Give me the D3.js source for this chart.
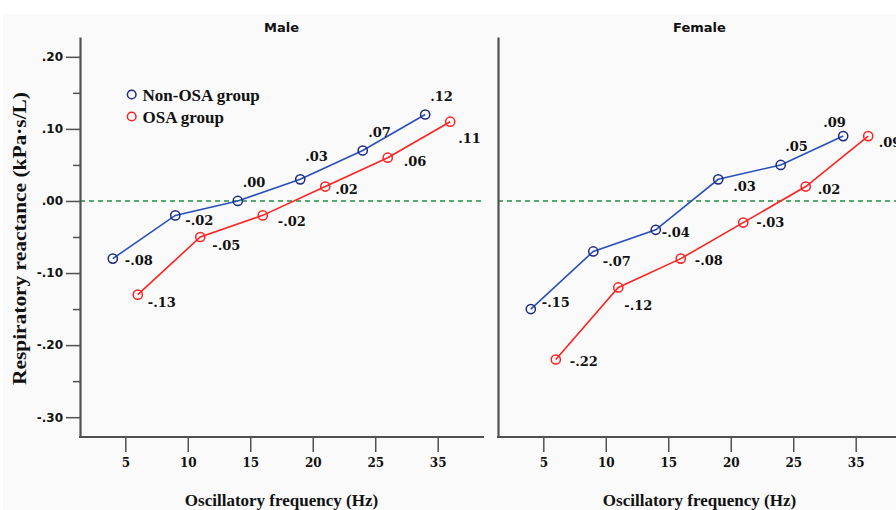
<!DOCTYPE html>
<html>
<head>
<meta charset="utf-8">
<script src="https://cdn.jsdelivr.net/npm/d3@7/dist/d3.min.js"></script>
<style>
  html, body { margin: 0; padding: 0; background: #ffffff; }
  svg { display: block; }
</style>
</head>
<body>
<svg id="chart" width="896" height="510"></svg>
<script>
// Oscillatory frequency categories (Hz) shown on both panels
const frequencies = ["5", "10", "15", "20", "25", "35"];
const panels = ["Male", "Female"];
const groups = ["Non-OSA group", "OSA group"];

// Mean respiratory reactance (kPa·s/L) per frequency
const maleNonOSA   = [-0.08, -0.02, 0.00, 0.03, 0.07, 0.12];
const maleOSA      = [-0.13, -0.05, -0.02, 0.02, 0.06, 0.11];
const femaleNonOSA = [-0.15, -0.07, -0.04, 0.03, 0.05, 0.09];
const femaleOSA    = [-0.22, -0.12, -0.08, -0.03, 0.02, 0.09];

// Y axis ticks
const yMajorTicks = [0.20, 0.10, 0.00, -0.10, -0.20, -0.30];
const yMinorTicks = [0.15, 0.05, -0.05, -0.15, -0.25];

// Value label offsets [dx, dy] from each marker
const labelOffsets = {
  Male: [
    [[12, 6.5], [10, 10], [5, -13.6], [5, -18], [5.5, -14], [5, -13]],
    [[10, 12], [12, 13.4], [15, 11], [10, 7.4], [16, 8.6], [8, 21]]
  ],
  Female: [
    [[11, -1.7], [9.5, 14.3], [6, 7.6], [15, 12], [4.5, -13.6], [-20, -8.7]],
    [[14, 6], [6, 23], [14, 6.7], [13, 4], [12, 7.4], [10.5, 10.6]]
  ]
};

const seriesByPanel = {
  Male: [maleNonOSA, maleOSA],
  Female: [femaleNonOSA, femaleOSA]
};

const lineColors = ["#2a4fb8", "#ff2222"];
const markerColors = ["#1e2a7e", "#ff2222"];
const markerShift = [-12.5, 12.5];

const svg = d3.select("#chart");

// light chart backdrop
svg.append("rect")
  .attr("x", 3).attr("y", 14).attr("width", 893).attr("height", 496)
  .attr("fill", "#fafafa");

const y = d3.scaleLinear().domain([-0.3275, 0.2275]).range([437, 37]);

const fmt = v => {
  const s = Math.abs(v).toFixed(2).replace(/^0/, "");
  return (v < 0 ? "-" : "") + s;
};

const panelFrames = [
  { name: "Male", x0: 80, x1: 484 },
  { name: "Female", x0: 498, x1: 900 }
];

const axisColor = "#505050";

panelFrames.forEach((p, pi) => {
  const x = d3.scalePoint().domain(frequencies).range([p.x0 + 45.3, p.x0 + 357.7]);
  const g = svg.append("g");

  // panel title
  g.append("text")
    .attr("x", (x.range()[0] + x.range()[1]) / 2)
    .attr("y", 32)
    .attr("text-anchor", "middle")
    .attr("font-family", "DejaVu Sans, sans-serif")
    .attr("font-weight", "bold")
    .attr("font-size", 13)
    .attr("fill", "#111")
    .text(p.name);

  // zero reference line
  g.append("line")
    .attr("x1", p.x0).attr("x2", p.x1)
    .attr("y1", y(0)).attr("y2", y(0))
    .attr("stroke", "#1f8f3f").attr("stroke-width", 1.4)
    .attr("stroke-dasharray", "5,4");

  // y axis
  const yAxisG = g.append("g").attr("transform", `translate(${p.x0},0)`);
  if (pi === 0) {
    yAxisG.append("g")
      .call(d3.axisLeft(y).tickValues(yMinorTicks).tickSize(7).tickSizeOuter(0).tickFormat(""))
      .call(s => s.select(".domain").remove())
      .call(s => s.selectAll(".tick line").attr("stroke", axisColor).attr("stroke-width", 1.5));
    yAxisG.append("g")
      .call(d3.axisLeft(y).tickValues(yMajorTicks).tickSize(14).tickPadding(3).tickSizeOuter(0).tickFormat(fmt))
      .call(s => s.select(".domain").attr("stroke", axisColor).attr("stroke-width", 2.2))
      .call(s => s.selectAll(".tick line").attr("stroke", axisColor).attr("stroke-width", 1.5))
      .call(s => s.selectAll(".tick text")
        .attr("font-family", "DejaVu Sans, sans-serif")
        .attr("font-weight", "bold")
        .attr("font-size", 12)
        .attr("fill", "#111"));
  } else {
    yAxisG.append("g")
      .call(d3.axisLeft(y).tickValues([]).tickSizeOuter(0))
      .call(s => s.select(".domain").attr("stroke", axisColor).attr("stroke-width", 2.2));
  }

  // x axis
  const xAxisG = g.append("g").attr("transform", `translate(0,437)`);
  xAxisG.call(d3.axisBottom(x).tickSize(15).tickPadding(6).tickSizeOuter(0))
    .call(s => s.select(".domain").remove())
    .call(s => s.selectAll(".tick line").attr("stroke", axisColor).attr("stroke-width", 1.5))
    .call(s => s.selectAll(".tick text")
      .attr("font-family", "DejaVu Serif, serif")
      .attr("font-weight", "bold")
      .attr("font-size", 12)
      .attr("fill", "#111"));
  xAxisG.append("line")
    .attr("x1", p.x0 - 1).attr("x2", p.x1)
    .attr("y1", 0).attr("y2", 0)
    .attr("stroke", axisColor).attr("stroke-width", 2.2);

  // x axis title
  g.append("text")
    .attr("x", (x.range()[0] + x.range()[1]) / 2)
    .attr("y", 506)
    .attr("text-anchor", "middle")
    .attr("font-family", "Liberation Serif, serif")
    .attr("font-weight", "bold")
    .attr("font-size", 17)
    .attr("fill", "#111")
    .text("Oscillatory frequency (Hz)");

  // series
  seriesByPanel[p.name].forEach((vals, si) => {
    const pts = frequencies.map((f, i) => ({ f, v: vals[i], i }));
    const px = d => x(d.f) + markerShift[si];

    g.append("path")
      .datum(pts)
      .attr("fill", "none")
      .attr("stroke", lineColors[si])
      .attr("stroke-width", 1.6)
      .attr("d", d3.line().x(px).y(d => y(d.v)));

    g.selectAll(null).data(pts).enter().append("circle")
      .attr("cx", px).attr("cy", d => y(d.v))
      .attr("r", 4.6)
      .attr("fill", "none")
      .attr("stroke", markerColors[si])
      .attr("stroke-width", 1.5);

    g.selectAll(null).data(pts).enter().append("text")
      .attr("x", d => px(d) + labelOffsets[p.name][si][d.i][0])
      .attr("y", d => y(d.v) + labelOffsets[p.name][si][d.i][1])
      .attr("font-family", "DejaVu Serif, serif")
      .attr("font-weight", "bold")
      .attr("font-size", 13)
      .attr("fill", "#111")
      .text(d => fmt(d.v));
  });
});

// y axis title
svg.append("text")
  .attr("transform", "translate(26,238.5) rotate(-90)")
  .attr("text-anchor", "middle")
  .attr("font-family", "Liberation Serif, serif")
  .attr("font-weight", "bold")
  .attr("font-size", 18)
  .attr("fill", "#111")
  .attr("textLength", 293)
  .attr("lengthAdjust", "spacingAndGlyphs")
  .text("Respiratory reactance (kPa·s/L)");

// legend
const legend = svg.append("g");
groups.forEach((name, i) => {
  const ly = 94.5 + i * 22;
  legend.append("circle")
    .attr("cx", 131.7).attr("cy", ly)
    .attr("r", 4.3)
    .attr("fill", "none")
    .attr("stroke", markerColors[i])
    .attr("stroke-width", 1.5);
  legend.append("text")
    .attr("x", 142.5).attr("y", ly + 6.8)
    .attr("font-family", "Liberation Serif, serif")
    .attr("font-weight", "bold")
    .attr("font-size", 17)
    .attr("fill", "#111")
    .text(name);
});
</script>
</body>
</html>
